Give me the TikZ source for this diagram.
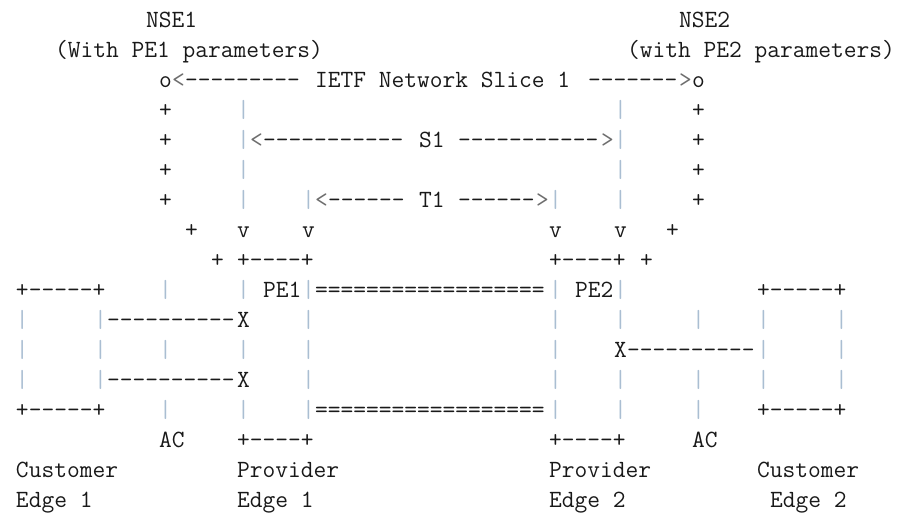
\documentclass[tikz,border=0pt]{standalone}
\usepackage{xcolor}
\usepackage{tikz}

\definecolor{ink}{RGB}{25,25,25}
\definecolor{barline}{RGB}{170,190,210}
\definecolor{tipgray}{RGB}{110,110,110}

% a run of n hyphens, one per group so no dash ligature forms
\newcommand{\dsh}[1]{\foreach \dn in {1,...,#1}{-}}

\begin{document}
\begin{tikzpicture}[
  x=13pt, y=-30pt,
  chr/.style={anchor=base west, inner sep=0pt, outer sep=0pt,
              text=ink, font=\ttfamily\fontsize{24.76}{30}\selectfont},
  bar/.style={chr, text=barline},
  tip/.style={chr, text=tipgray},
]

\useasboundingbox (0pt,0pt) rectangle (902pt,-512pt);

\begin{scope}[shift={(16pt,-27.5pt)}]

% slice end points
\node[chr] (nse1) at (10,0) {NSE1};
\node[chr] (nse2) at (51,0) {NSE2};
\node[chr] (nse1par) at (3,1) {(With PE1 parameters)};
\node[chr] (nse2par) at (47,1) {(with PE2 parameters)};

\node[chr] (ep1) at (11,2) {o};
\node[tip] (slice-l) at (12,2) {<};
\node[chr] (slice-ld) at (13,2) {\dsh{9}};
\node[chr] (slice) at (23,2) {IETF Network Slice 1};
\node[chr] (slice-rd) at (44,2) {\dsh{7}};
\node[tip] (slice-r) at (51,2) {>};
\node[chr] (ep2) at (52,2) {o};

\foreach \r in {3,...,6} {
  \node[chr] (lp\r) at (11,\r) {+};
  \node[chr] (rp\r) at (52,\r) {+};
  \node[bar] (s1l\r) at (17,\r) {|};
  \node[bar] (s1r\r) at (46,\r) {|};
}

% S1
\node[tip] (s1-l) at (18,4) {<};
\node[chr] (s1-ld) at (19,4) {\dsh{11}};
\node[chr] (s1) at (31,4) {S1};
\node[chr] (s1-rd) at (34,4) {\dsh{11}};
\node[tip] (s1-r) at (45,4) {>};

% T1
\node[bar] (t1l) at (22,6) {|};
\node[tip] (t1-l) at (23,6) {<};
\node[chr] (t1-ld) at (24,6) {\dsh{6}};
\node[chr] (t1) at (31,6) {T1};
\node[chr] (t1-rd) at (34,6) {\dsh{6}};
\node[tip] (t1-r) at (40,6) {>};
\node[bar] (t1r) at (41,6) {|};

\node[chr] (lp7) at (13,7) {+};
\node[chr] (rp7) at (50,7) {+};
\foreach \c in {17,22,41,46}
  \node[chr] (v\c) at (\c,7) {v};

\node[chr] (lp8) at (15,8) {+};
\node[chr] (rp8) at (48,8) {+};

% PE boxes
\node[chr] (pe1top) at (17,8) {+\dsh{4}+};
\node[chr] (pe2top) at (41,8) {+\dsh{4}+};
\node[chr] (pe1) at (19,9) {PE1};
\node[chr] (pe2) at (43,9) {PE2};
\node[chr] (pe1bot) at (17,14) {+\dsh{4}+};
\node[chr] (pe2bot) at (41,14) {+\dsh{4}+};

% tunnel between the PEs
\node[chr] (tun1) at (23,9) {==================};
\node[chr] (tun2) at (23,13) {==================};

% CE boxes
\node[chr] (ce1top) at (0,9) {+\dsh{5}+};
\node[chr] (ce1bot) at (0,13) {+\dsh{5}+};
\node[chr] (ce2top) at (57,9) {+\dsh{5}+};
\node[chr] (ce2bot) at (57,13) {+\dsh{5}+};

% vertical strokes, row by row
\foreach \r/\cl in {9/{11,17,22,41,46},
                    10/{0,6,22,41,46,52,57,63},
                    11/{0,6,11,17,22,41,57,63},
                    12/{0,6,22,41,46,52,57,63},
                    13/{11,17,22,41,46,52}}
  \foreach \c in \cl
    \node[bar] (b\r-\c) at (\c,\r) {|};

% attachment circuits
\node[chr] (ac1a) at (7,10) {\dsh{10}};
\node[chr] (x1a) at (17,10) {X};
\node[chr] (ac1b) at (7,12) {\dsh{10}};
\node[chr] (x1b) at (17,12) {X};
\node[chr] (x2) at (46,11) {X};
\node[chr] (ac2) at (47,11) {\dsh{10}};

\node[chr] (ac1) at (11,14) {AC};
\node[chr] (ac2lbl) at (52,14) {AC};

% edge names
\node[chr] (ce1a) at (0,15) {Customer};
\node[chr] (ce1b) at (0,16) {Edge 1};
\node[chr] (pe1a) at (17,15) {Provider};
\node[chr] (pe1b) at (17,16) {Edge 1};
\node[chr] (pe2a) at (41,15) {Provider};
\node[chr] (pe2b) at (41,16) {Edge 2};
\node[chr] (ce2a) at (57,15) {Customer};
\node[chr] (ce2b) at (58,16) {Edge 2};

\end{scope}
\end{tikzpicture}
\end{document}
